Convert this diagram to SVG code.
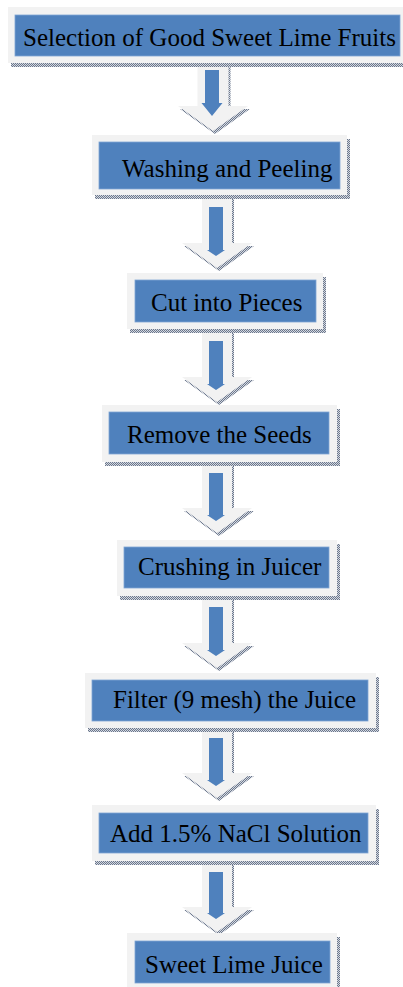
<svg xmlns="http://www.w3.org/2000/svg" width="403" height="987" viewBox="0 0 403 987">
<defs>
<pattern id="dots" width="2" height="2" patternUnits="userSpaceOnUse">
<rect width="2" height="2" fill="#d4d8e0"/>
<rect width="1" height="1" fill="#6b778c"/>
<rect x="1" y="1" width="1" height="1" fill="#6b778c"/>
</pattern>
</defs>
<style>
.sh{fill:url(#dots)}
.outer{fill:#f2f2f2}
.inner{fill:#4f81bd;stroke:#7fa5d4;stroke-width:0.8}
.lbl{font-family:"Liberation Serif","Times New Roman",serif;font-size:25px;fill:#000}
.ga{fill:#f2f2f2}
.ba{fill:#4f81bd}
</style>
<rect width="403" height="987" fill="#ffffff"/>

<g id="connectors">
<g id="a1">
<polygon class="sh" transform="translate(2,3)" points="197.5,63 228.5,63 228.5,106 248,106 213,131 178,106 197.5,106"/>
<polygon class="ga" points="197.5,63 228.5,63 228.5,106 248,106 213,131 178,106 197.5,106"/>
<polygon class="ba" points="205,70 219,70 219,103 222.5,103 212,116 201.5,103 205,103"/>
</g>
<g id="a2">
<polygon class="sh" transform="translate(2,3)" points="202,195 232,195 232,243 252,243 217,268 182,243 202,243"/>
<polygon class="ga" points="202,195 232,195 232,243 252,243 217,268 182,243 202,243"/>
<polygon class="ba" points="209,207 223,207 223,250 225,250 216,256 207,250 209,250"/>
</g>
<g id="a3">
<polygon class="sh" transform="translate(2,3)" points="202,329 232,329 232,377 252,377 217,402 182,377 202,377"/>
<polygon class="ga" points="202,329 232,329 232,377 252,377 217,402 182,377 202,377"/>
<polygon class="ba" points="209,341 223,341 223,384 225,384 216,390 207,384 209,384"/>
</g>
<g id="a4">
<polygon class="sh" transform="translate(2,3)" points="202,462 232,462 232,508 252,508 217,533 182,508 202,508"/>
<polygon class="ga" points="202,462 232,462 232,508 252,508 217,533 182,508 202,508"/>
<polygon class="ba" points="209,473 223,473 223,515 225,515 216,521 207,515 209,515"/>
</g>
<g id="a5">
<polygon class="sh" transform="translate(2,3)" points="202,596 232,596 232,643 252,643 217,668 182,643 202,643"/>
<polygon class="ga" points="202,596 232,596 232,643 252,643 217,668 182,643 202,643"/>
<polygon class="ba" points="209,607 223,607 223,650 225,650 216,656 207,650 209,650"/>
</g>
<g id="a6">
<polygon class="sh" transform="translate(2,3)" points="202,728 232,728 232,773 252,773 217,798 182,773 202,773"/>
<polygon class="ga" points="202,728 232,728 232,773 252,773 217,798 182,773 202,773"/>
<polygon class="ba" points="209,738 223,738 223,780 225,780 216,786 207,780 209,780"/>
</g>
<g id="a7">
<polygon class="sh" transform="translate(2,3)" points="202,861 232,861 232,907 252,907 217,932 182,907 202,907"/>
<polygon class="ga" points="202,861 232,861 232,907 252,907 217,932 182,907 202,907"/>
<polygon class="ba" points="209,872 223,872 223,913 225,913 216,919 207,913 209,913"/>
</g>
</g>

<g id="n1">
<rect class="sh" x="11" y="63" width="395" height="4"/>
<rect class="outer" x="8" y="7" width="398" height="56"/>
<rect class="inner" x="15" y="15" width="385" height="41"/>
<text class="lbl" x="23" y="45.5">Selection of Good Sweet Lime Fruits</text>
</g>
<g id="n2">
<rect class="sh" x="95" y="139" width="255" height="60"/>
<rect class="outer" x="92" y="135" width="255" height="60"/>
<rect class="inner" x="99" y="142" width="241" height="47"/>
<text class="lbl" x="122" y="177">Washing and Peeling</text>
</g>
<g id="n3">
<rect class="sh" x="130" y="277" width="196" height="56"/>
<rect class="outer" x="127" y="273" width="196" height="56"/>
<rect class="inner" x="135" y="280" width="181" height="42"/>
<text class="lbl" x="151" y="311">Cut into Pieces</text>
</g>
<g id="n4">
<rect class="sh" x="105" y="409" width="235" height="57"/>
<rect class="outer" x="102" y="405" width="235" height="57"/>
<rect class="inner" x="109" y="412" width="220" height="42"/>
<text class="lbl" x="127" y="443">Remove the Seeds</text>
</g>
<g id="n5">
<rect class="sh" x="120" y="544" width="220" height="56"/>
<rect class="outer" x="117" y="540" width="220" height="56"/>
<rect class="inner" x="124" y="547" width="205" height="41"/>
<text class="lbl" x="138" y="575">Crushing in Juicer</text>
</g>
<g id="n6">
<rect class="sh" x="88" y="677" width="291" height="55"/>
<rect class="outer" x="85" y="673" width="291" height="55"/>
<rect class="inner" x="92" y="680" width="276" height="41"/>
<text class="lbl" x="113" y="708">Filter (9 mesh) the Juice</text>
</g>
<g id="n7">
<rect class="sh" x="95" y="809" width="284" height="56"/>
<rect class="outer" x="92" y="805" width="284" height="56"/>
<rect class="inner" x="99" y="813" width="269" height="40"/>
<text class="lbl" x="110" y="842">Add 1.5% NaCl Solution</text>
</g>
<g id="n8">
<rect class="sh" x="130" y="937" width="210" height="57"/>
<rect class="outer" x="127" y="933" width="210" height="57"/>
<rect class="inner" x="135" y="941" width="195" height="42"/>
<text class="lbl" x="145" y="973">Sweet Lime Juice</text>
</g>
</svg>
